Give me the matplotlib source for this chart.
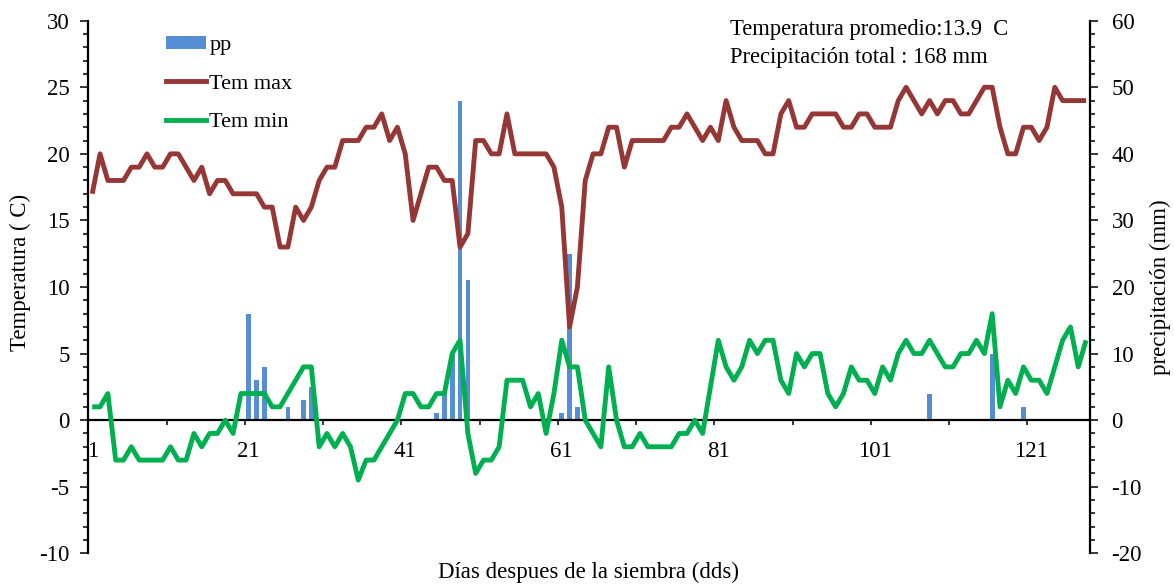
import matplotlib
matplotlib.use("Agg")
import matplotlib.pyplot as plt
import numpy as np
from matplotlib.patches import Patch
from matplotlib.lines import Line2D
from matplotlib.ticker import MultipleLocator, FixedLocator, NullFormatter

plt.rcParams['font.family'] = ['Liberation Serif', 'DejaVu Serif']
plt.rcParams['axes.unicode_minus'] = False

# Daily records: days after sowing, max/min temperature (C) and rainfall (mm)
dias = np.arange(1, 129)

tem_max = [17, 20, 18, 18, 18, 19, 19, 20, 19, 19,
           20, 20, 19, 18, 19, 17, 18, 18, 17, 17,
           17, 17, 16, 16, 13, 13, 16, 15, 16, 18,
           19, 19, 21, 21, 21, 22, 22, 23, 21, 22,
           20, 15, 17, 19, 19, 18, 18, 13, 14, 21,
           21, 20, 20, 23, 20, 20, 20, 20, 20, 19,
           16, 7, 10, 18, 20, 20, 22, 22, 19, 21,
           21, 21, 21, 21, 22, 22, 23, 22, 21, 22,
           21, 24, 22, 21, 21, 21, 20, 20, 23, 24,
           22, 22, 23, 23, 23, 23, 22, 22, 23, 23,
           22, 22, 22, 24, 25, 24, 23, 24, 23, 24,
           24, 23, 23, 24, 25, 25, 22, 20, 20, 22,
           22, 21, 22, 25, 24, 24, 24, 24]

tem_min = [1, 1, 2, -3, -3, -2, -3, -3, -3, -3,
           -2, -3, -3, -1, -2, -1, -1, 0, -1, 2,
           2, 2, 2, 1, 1, 2, 3, 4, 4, -2,
           -1, -2, -1, -2, -4.5, -3, -3, -2, -1, 0,
           2, 2, 1, 1, 2, 2, 5, 6, -1, -4,
           -3, -3, -2, 3, 3, 3, 1, 2, -1, 2,
           6, 4, 4, 0, -1, -2, 4, 0, -2, -2,
           -1, -2, -2, -2, -2, -1, -1, 0, -1, 2.5,
           6, 4, 3, 4, 6, 5, 6, 6, 3, 2,
           5, 4, 5, 5, 2, 1, 2, 4, 3, 3,
           2, 4, 3, 5, 6, 5, 5, 6, 5, 4,
           4, 5, 5, 6, 5, 8, 1, 3, 2, 4,
           3, 3, 2, 4, 6, 7, 4, 6]

pp_dias = [21, 22, 23, 26, 28, 29, 45, 46, 47, 48, 49, 61, 62, 63, 108, 116, 120]
pp_mm = [16, 6, 8, 2, 3, 5, 1, 4, 10, 48, 21, 1, 25, 2, 4, 10, 2]

x_labels = [1, 21, 41, 61, 81, 101, 121]

COL_PP = '#558ED5'
COL_MAX = '#953735'
COL_MIN = '#00B050'

W, H = 1174, 584
fig = plt.figure(figsize=(W / 100, H / 100), dpi=100)
left, right, top, bottom = 88.3, 1090.0, 20.7, 553.3
ax = fig.add_axes([left / W, 1 - bottom / H, (right - left) / W, (bottom - top) / H])
ax2 = ax.twinx()
ax.set_zorder(ax2.get_zorder() + 1)
ax.patch.set_visible(False)

# rainfall bars on the secondary axis, temperatures on top
ax2.bar(pp_dias, pp_mm, width=0.6, color=COL_PP, zorder=2)
ax.plot(dias, tem_max, color=COL_MAX, lw=3.5, zorder=3,
        solid_joinstyle='round', solid_capstyle='butt')
ax.plot(dias, tem_min, color=COL_MIN, lw=3.5, zorder=3,
        solid_joinstyle='round', solid_capstyle='butt')

ax.set_xlim(0.5, len(dias) + 0.5)
ax.set_ylim(-10, 30)
ax2.set_ylim(-20, 60)

# spines
for s in ('top', 'right'):
    ax.spines[s].set_visible(False)
ax.spines['bottom'].set_position(('data', 0))
ax.spines['bottom'].set_linewidth(1.6)
ax.spines['left'].set_linewidth(1.6)
for s in ('top', 'left', 'bottom'):
    ax2.spines[s].set_visible(False)
ax2.spines['right'].set_linewidth(1.6)

# x axis: tick marks between categories, labels centred on days
ax.xaxis.set_major_locator(FixedLocator(np.arange(0.5, len(dias), 10)))
ax.xaxis.set_major_formatter(NullFormatter())
ax.set_xticks(x_labels, minor=True)
ax.set_xticklabels([str(v) for v in x_labels], minor=True)
ax.tick_params(axis='x', which='major', direction='out', length=3.6, width=1.1)
ax.tick_params(axis='x', which='minor', length=0, pad=15, labelsize=16.5)

# y axes
ax.yaxis.set_major_locator(MultipleLocator(5))
ax.yaxis.set_minor_locator(MultipleLocator(1))
ax.tick_params(axis='y', which='major', direction='out', length=5.5, width=1.1,
               labelsize=16.5, pad=8)
ax.tick_params(axis='y', which='minor', direction='out', length=3.5, width=1.1)

ax2.yaxis.set_major_locator(MultipleLocator(10))
ax2.yaxis.set_minor_locator(MultipleLocator(2))
ax2.tick_params(axis='y', which='major', direction='out', length=5.5, width=1.1,
                labelsize=16.5, pad=10)
ax2.tick_params(axis='y', which='minor', direction='out', length=3.5, width=1.1)

# axis titles
fig.text(20 / W, 1 - 272 / H, 'Temperatura ( C)', rotation=90, fontsize=16.5,
         ha='center', va='center')
fig.text(1160 / W, 1 - 287 / H, 'precipitación (mm)', rotation=90, fontsize=16.5,
         ha='center', va='center')
fig.text(589 / W, 1 - 572 / H, 'Días despues de la siembra (dds)', fontsize=16.5,
         ha='center', va='center')

# summary text
fig.text(730 / W, 1 - 35 / H, 'Temperatura promedio:13.9  C', fontsize=16.3,
         ha='left', va='baseline')
fig.text(730 / W, 1 - 63 / H, 'Precipitación total : 168 mm', fontsize=16.3,
         ha='left', va='baseline')

# legend
handles = [Patch(facecolor=COL_PP, edgecolor='none'),
           Line2D([], [], color=COL_MAX, lw=3.5),
           Line2D([], [], color=COL_MIN, lw=3.5)]
fig.legend(handles, ['pp', 'Tem max', 'Tem min'], loc='upper left',
           bbox_to_anchor=(166 / W, 1 - 36 / H), frameon=False, borderpad=0,
           borderaxespad=0, fontsize=16, handlelength=1.8, handletextpad=0.15,
           handleheight=0.5, labelspacing=0.86)

fig.savefig('out.png', dpi=100, facecolor='white')
